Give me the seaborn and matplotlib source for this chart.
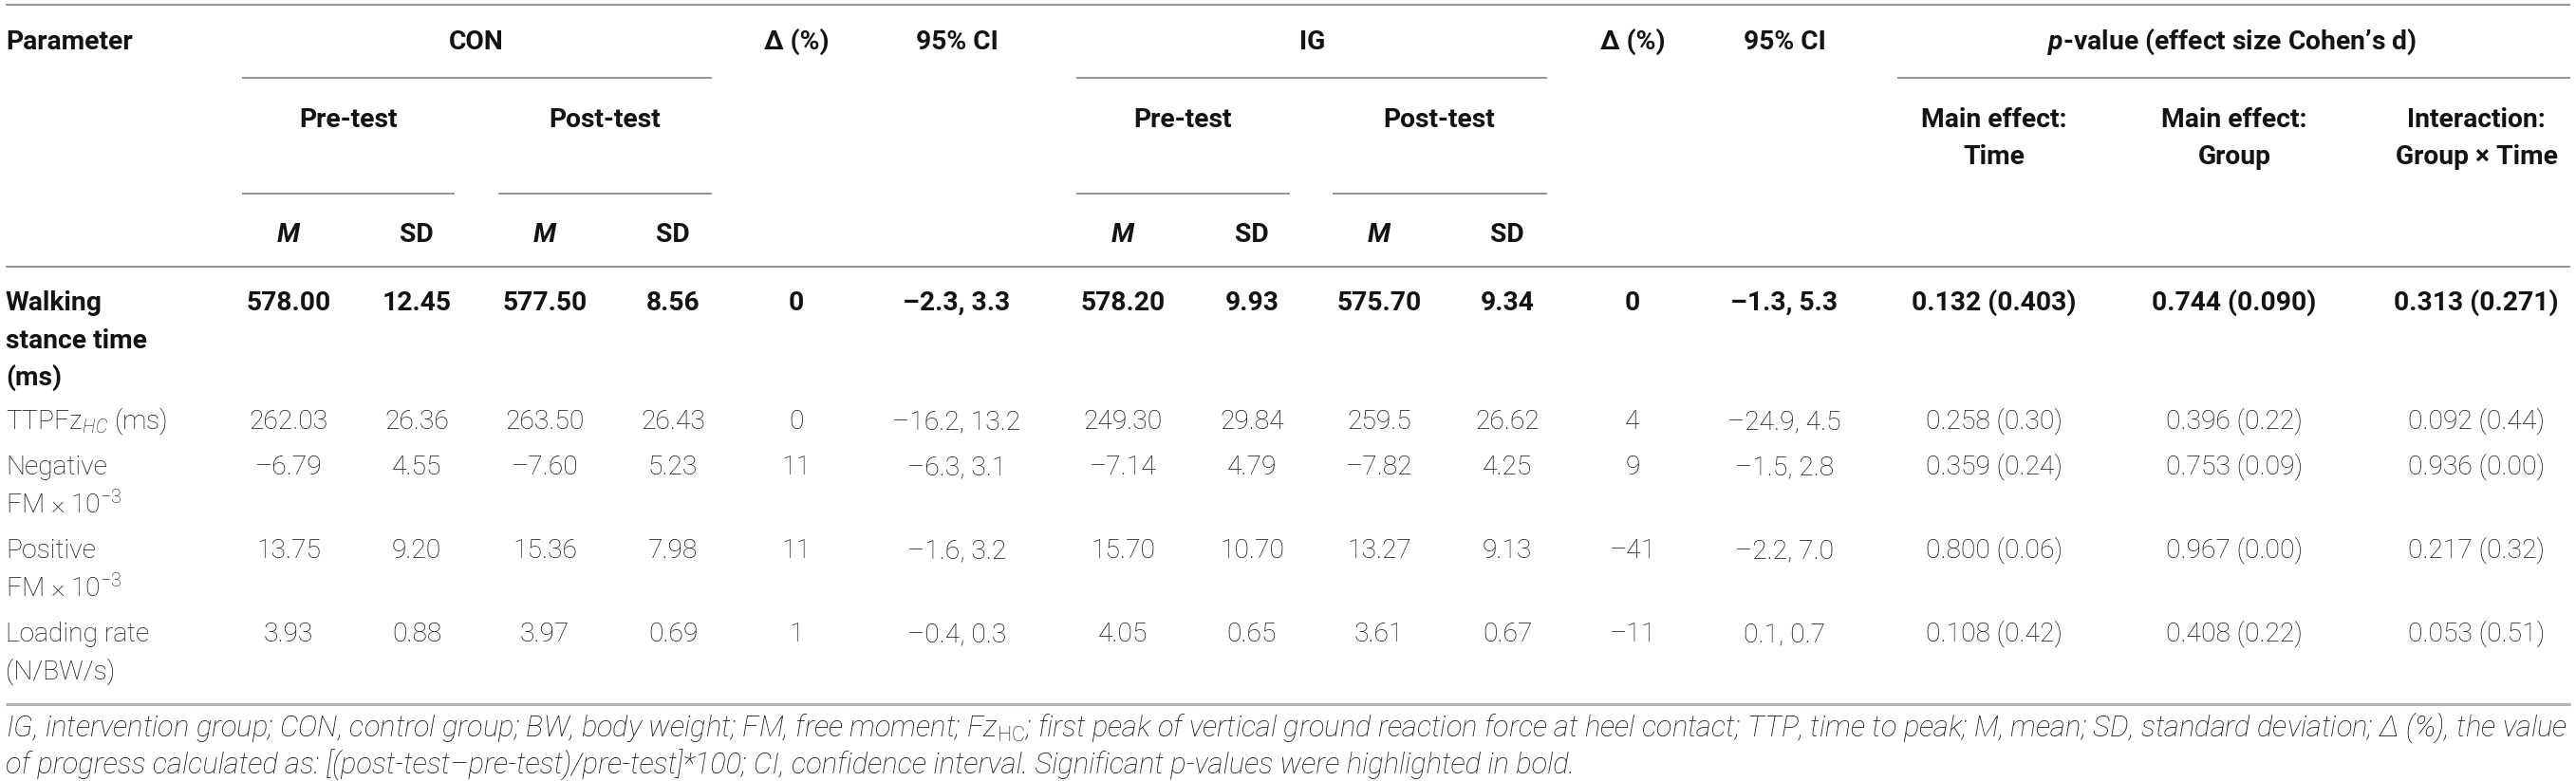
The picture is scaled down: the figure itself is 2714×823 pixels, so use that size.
import matplotlib
matplotlib.use("Agg")
import matplotlib.pyplot as plt
import seaborn as sns

# ---- table content ----
parameters = ["Walking\nstance time\n(ms)", "TTPFz$_{HC}$ (ms)", "Negative\nFM × 10$^{-3}$",
              "Positive\nFM × 10$^{-3}$", "Loading rate\n(N/BW/s)"]
bold_rows = [True, False, False, False, False]

con_pre_m = ["578.00", "262.03", "–6.79", "13.75", "3.93"]
con_pre_sd = ["12.45", "26.36", "4.55", "9.20", "0.88"]
con_post_m = ["577.50", "263.50", "–7.60", "15.36", "3.97"]
con_post_sd = ["8.56", "26.43", "5.23", "7.98", "0.69"]
con_delta = ["0", "0", "11", "11", "1"]
con_ci = ["–2.3, 3.3", "–16.2, 13.2", "–6.3, 3.1", "–1.6, 3.2", "–0.4, 0.3"]

ig_pre_m = ["578.20", "249.30", "–7.14", "15.70", "4.05"]
ig_pre_sd = ["9.93", "29.84", "4.79", "10.70", "0.65"]
ig_post_m = ["575.70", "259.5", "–7.82", "13.27", "3.61"]
ig_post_sd = ["9.34", "26.62", "4.25", "9.13", "0.67"]
ig_delta = ["0", "4", "9", "–41", "–11"]
ig_ci = ["–1.3, 5.3", "–24.9, 4.5", "–1.5, 2.8", "–2.2, 7.0", "0.1, 0.7"]

p_time = ["0.132 (0.403)", "0.258 (0.30)", "0.359 (0.24)", "0.800 (0.06)", "0.108 (0.42)"]
p_group = ["0.744 (0.090)", "0.396 (0.22)", "0.753 (0.09)", "0.967 (0.00)", "0.408 (0.22)"]
p_inter = ["0.313 (0.271)", "0.092 (0.44)", "0.936 (0.00)", "0.217 (0.32)", "0.053 (0.51)"]

effect_headers = ["Main effect:\nTime", "Main effect:\nGroup", "Interaction:\nGroup × Time"]

note_lines = [
    "IG, intervention group; CON, control group; BW, body weight; FM, free moment; "
    "Fz$_{\\mathrm{HC}}$; first peak of vertical ground reaction force at heel contact; "
    "TTP, time to peak; M, mean; SD, standard deviation; Δ (%), the value",
    "of progress calculated as: [(post-test–pre-test)/pre-test]*100; CI, confidence interval. "
    "Significant p-values were highlighted in bold.",
]

# ---- styling ----
W, H, DPI = 2714, 823, 100
INK = "#141213"
RULE = "#8a8a8a"
FS = 20.3

sns.set_theme(style="white")
plt.rcParams["font.family"] = ["Roboto", "DejaVu Sans"]
plt.rcParams["mathtext.fontset"] = "custom"
plt.rcParams["mathtext.rm"] = "Roboto:light"
plt.rcParams["mathtext.it"] = "Roboto:italic:light"
plt.rcParams["mathtext.bf"] = "Roboto:bold"
plt.rcParams["mathtext.bfit"] = "Roboto:italic:bold"

fig = plt.figure(figsize=(W / DPI, H / DPI), dpi=DPI)
ax = fig.add_axes([0, 0, 1, 1])
ax.set_xlim(0, W)
ax.set_ylim(H, 0)
ax.axis("off")


def put(x, y, s, weight="light", style="normal", ha="center", size=FS):
    # y is the visual middle of the capitals, convert to baseline
    base = y + 0.355 * size * DPI / 72
    return ax.text(x, base, s, ha=ha, va="baseline", fontsize=size,
                   fontweight=weight, fontstyle=style, color=INK)


# column centres
cols = [304, 439, 574, 709, 839, 1008, 1183, 1319, 1453, 1588, 1720, 1880, 2101, 2354, 2609]
x_left = 6
line_gap = 39.5

# rules
ax.hlines(5, x_left, 2708, color=RULE, lw=1.3)
ax.hlines(281, x_left, 2708, color=RULE, lw=1.3)
ax.hlines(742, x_left, 2708, color="#b3b3b3", lw=2.2)
for a, b in [(255, 750), (1134, 1630), (1999, 2708)]:
    ax.hlines(82, a, b, color=RULE, lw=1.3)
for a, b in [(255, 479), (525, 750), (1134, 1359), (1404, 1630)]:
    ax.hlines(204, a, b, color=RULE, lw=1.3)

# header
y1, y2, y3 = 42, 124, 245
put(x_left, y1, "Parameter", "bold", ha="left")
put(502, y1, "CON", "bold")
put(1383, y1, "IG", "bold")
for xc in (cols[4], cols[10]):
    put(xc, y1, "Δ (%)", "bold")
for xc in (cols[5], cols[11]):
    put(xc, y1, "95% CI", "bold")
put(2352, y1, r"$\mathbfit{p}$-value (effect size Cohen’s d)", "bold")

for xc, lab in zip([367, 637, 1246, 1516], ["Pre-test", "Post-test", "Pre-test", "Post-test"]):
    put(xc, y2, lab, "bold")
for xc, lab in zip(cols[12:], effect_headers):
    for k, part in enumerate(lab.split("\n")):
        put(xc, y2 + k * 39, part, "bold")

for i, xc in enumerate(cols[:4] + cols[6:10]):
    if i % 2 == 0:
        put(xc, y3, "M", "bold", "italic")
    else:
        put(xc, y3, "SD", "bold")

# body
row_y = [317, 442, 490, 578, 666]
columns = [con_pre_m, con_pre_sd, con_post_m, con_post_sd, con_delta, con_ci,
           ig_pre_m, ig_pre_sd, ig_post_m, ig_post_sd, ig_delta, ig_ci,
           p_time, p_group, p_inter]

for r, (label, yy) in enumerate(zip(parameters, row_y)):
    w = "bold" if bold_rows[r] else "light"
    for k, part in enumerate(label.split("\n")):
        put(x_left, yy + k * line_gap, part, w, ha="left")
    for xc, col in zip(cols, columns):
        put(xc, yy, col[r], w)

# footnote, fitted to the table width
notes = [put(x_left, 766 + k * 40, s, "light", "italic", ha="left", size=19)
         for k, s in enumerate(note_lines)]
fig.canvas.draw()
rend = fig.canvas.get_renderer()
width = notes[0].get_window_extent(rend).width
scale = (2706 - x_left) / width
for k, t in enumerate(notes):
    t.set_fontsize(19 * scale)

fig.savefig("out.png", dpi=DPI, facecolor="white")
